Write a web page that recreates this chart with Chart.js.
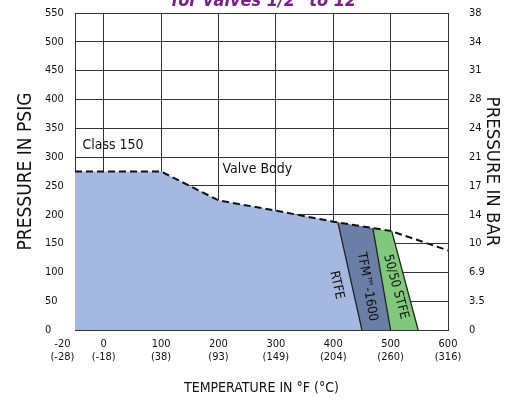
<!DOCTYPE html>
<html>
<head>
<meta charset="utf-8">
<script src="https://cdn.jsdelivr.net/npm/chart.js@4.4.1/dist/chart.umd.min.js"></script>
<style>
body { margin: 0; background: #fff; }
</style>
</head>
<body>
<canvas id="grafico" width="516" height="401"></canvas>
<script>
// ejes
const tempTicks = [-50, 0, 100, 200, 300, 400, 500, 600];
const tempLabelsF = ['-20', '0', '100', '200', '300', '400', '500', '600'];
const tempLabelsC = ['(-28)', '(-18)', '(38)', '(93)', '(149)', '(204)', '(260)', '(316)'];
const psiTicks = [0, 50, 100, 150, 200, 250, 300, 350, 400, 450, 500, 550];
const barLabels = ['0', '3.5', '6.9', '10', '14', '17', '21', '24', '28', '31', '34', '38'];

// Valve Body (linea punteada)
const bodyTemp = [-50, 100, 200, 300, 400, 500, 600];
const bodyPsi = [275, 275, 225, 207, 188, 172, 138];

// asientos
const rtfeTemp = [-50, 100, 200, 300, 408, 450];
const rtfePsi = [275, 275, 225, 207, 187, 0];
const tfmTemp = [408, 469, 500];
const tfmPsi = [187, 177, 0];
const stfeTemp = [469, 502, 548];
const stfePsi = [177, 171, 0];

const fuente = "'Liberation Sans Narrow', 'DejaVu Sans Condensed', sans-serif";
Chart.defaults.font.family = fuente;
Chart.defaults.color = '#111';

function puntos(xs, ys) {
    return xs.map((x, i) => ({ x: x, y: ys[i] }));
}

function relleno(xs, ys, color) {
    return {
        data: puntos(xs, ys),
        backgroundColor: color,
        borderWidth: 0,
        pointRadius: 0,
        fill: 'origin',
    };
}

// linea que baja a 0 (ultimo tramo de cada asiento)
function limite(xs, ys) {
    const n = xs.length;
    return {
        data: puntos(xs.slice(n - 2), ys.slice(n - 2)),
        borderColor: '#222',
        borderWidth: 1.3,
        pointRadius: 0,
        fill: false,
    };
}

// textos sobre el grafico
const etiquetas = {
    id: 'etiquetas',
    afterDraw(chart) {
        const ctx = chart.ctx;
        const sx = chart.scales.x;
        const sy = chart.scales.y;
        ctx.save();
        ctx.fillStyle = '#111';
        ctx.font = '14px ' + fuente;
        ctx.textBaseline = 'middle';
        ctx.textAlign = 'left';
        ctx.fillText('Class 150', sx.getPixelForValue(-37), sy.getPixelForValue(321));
        ctx.fillText('Valve Body', sx.getPixelForValue(207), sy.getPixelForValue(278));

        const rotados = [
            ['RTFE', 406, 78, rtfeTemp, rtfePsi],
            ['TFM\u2122-1600', 459, 75, tfmTemp, tfmPsi],
            ['50/50 STFE', 509, 75, stfeTemp, stfePsi],
        ];
        ctx.font = '13px ' + fuente;
        ctx.textAlign = 'center';
        rotados.forEach(r => {
            const n = r[3].length;
            const dx = sx.getPixelForValue(r[3][n - 1]) - sx.getPixelForValue(r[3][n - 2]);
            const dy = sy.getPixelForValue(r[4][n - 1]) - sy.getPixelForValue(r[4][n - 2]);
            ctx.save();
            ctx.translate(sx.getPixelForValue(r[1]), sy.getPixelForValue(r[2]));
            ctx.rotate(Math.atan2(dy, dx));
            ctx.fillText(r[0], 0, 0);
            ctx.restore();
        });

        // titulo cortado arriba
        ctx.fillStyle = '#7a1f8c';
        ctx.font = 'italic bold 18px ' + fuente;
        ctx.textBaseline = 'alphabetic';
        ctx.fillText('for valves 1/2" to 12"', 268, 6);
        ctx.restore();
    }
};

new Chart(document.getElementById('grafico'), {
    type: 'line',
    data: {
        datasets: [
            {
                data: puntos(bodyTemp, bodyPsi),
                borderColor: '#111',
                borderWidth: 2,
                borderDash: [7, 4],
                pointRadius: 0,
                fill: false,
            },
            limite(rtfeTemp, rtfePsi),
            limite(tfmTemp, tfmPsi),
            limite(stfeTemp, stfePsi),
            relleno(rtfeTemp, rtfePsi, '#a5b8e0'),
            relleno(tfmTemp, tfmPsi, '#6a7ea6'),
            relleno(stfeTemp, stfePsi, '#80c87c'),
        ],
    },
    options: {
        responsive: false,
        animation: false,
        devicePixelRatio: 1,
        layout: { padding: { top: 13, left: 45, right: 0, bottom: 0 } },
        plugins: { legend: { display: false }, tooltip: { enabled: false } },
        scales: {
            x: {
                type: 'linear',
                min: -50,
                max: 600,
                z: 1,
                afterBuildTicks: s => { s.ticks = tempTicks.map(v => ({ value: v })); },
                afterFit: s => { s.height = 71; },
                ticks: {
                    font: { size: 11, lineHeight: 1.15 },
                    padding: 8,
                    maxRotation: 0,
                    autoSkip: false,
                    callback: (v) => {
                        const i = tempTicks.indexOf(v);
                        const pad = i === 0 ? '        ' : '';
                        return [tempLabelsF[i] + pad, tempLabelsC[i] + pad];
                    },
                },
                grid: { color: '#333', lineWidth: 1, drawTicks: false },
                border: { color: '#333' },
                title: {
                    display: true,
                    text: 'TEMPERATURE IN \u00b0F (\u00b0C)',
                    font: { size: 14 },
                    padding: { top: 0, bottom: 4 },
                },
            },
            y: {
                type: 'linear',
                position: 'left',
                min: 0,
                max: 550,
                z: 1,
                afterBuildTicks: s => { s.ticks = psiTicks.map(v => ({ value: v })); },
                afterFit: s => { s.width = 30; },
                ticks: { font: { size: 11 }, padding: 0, crossAlign: 'far' },
                grid: { color: '#333', lineWidth: 1, drawTicks: false },
                border: { color: '#333' },
                title: {
                    display: true,
                    text: 'PRESSURE IN PSIG',
                    font: { size: 19 },
                    padding: { top: -30, bottom: 0 },
                },
            },
            y1: {
                type: 'linear',
                position: 'right',
                min: 0,
                max: 550,
                z: 1,
                afterBuildTicks: s => { s.ticks = psiTicks.map(v => ({ value: v })); },
                afterFit: s => { s.width = 68; },
                ticks: {
                    font: { size: 11 },
                    padding: 2,
                    callback: (v) => barLabels[psiTicks.indexOf(v)],
                },
                grid: { drawOnChartArea: false, drawTicks: true, tickLength: 19, tickColor: 'rgba(0,0,0,0)' },
                border: { color: '#333' },
                title: {
                    display: true,
                    text: 'PRESSURE IN BAR',
                    font: { size: 18.5 },
                    padding: { top: 13, bottom: 0 },
                },
            },
        },
    },
    plugins: [etiquetas],
});
</script>
</body>
</html>
